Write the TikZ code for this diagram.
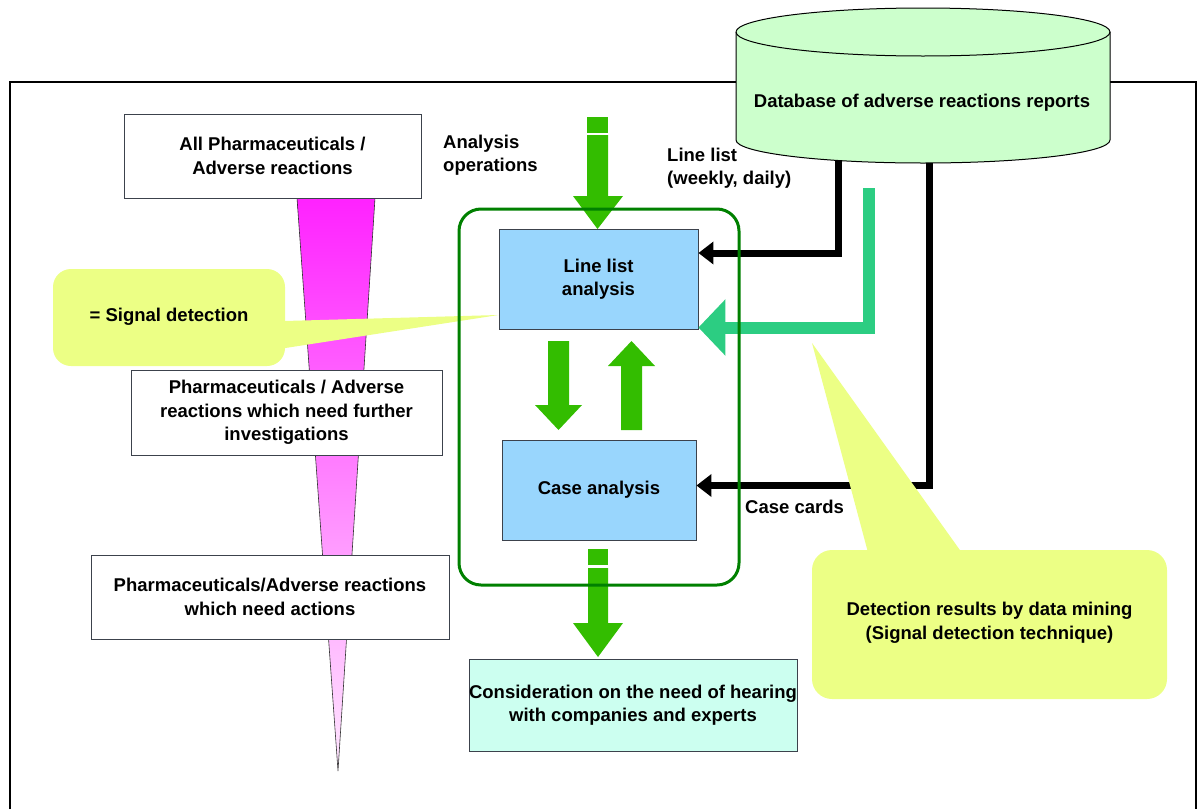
\documentclass[tikz,border=0pt]{standalone}
\usepackage{fontspec}
\setmainfont{Liberation Sans}
\usetikzlibrary{arrows.meta}

\definecolor{dbgreen}{RGB}{204,255,204}
\definecolor{boxblue}{RGB}{153,214,253}
\definecolor{boxline}{RGB}{60,66,76}
\definecolor{arrowgreen}{RGB}{51,189,0}
\definecolor{framegreen}{RGB}{0,128,0}
\definecolor{teal}{RGB}{44,205,130}
\definecolor{calloutyel}{RGB}{236,255,133}
\definecolor{mint}{RGB}{204,255,240}
\definecolor{funtop}{RGB}{255,34,255}
\definecolor{funbot}{RGB}{255,232,255}

\tikzset{
  txt/.style={font=\fontsize{18.5}{23.5}\selectfont\bfseries, align=center, inner sep=0pt},
  plainbox/.style={txt, draw=boxline, line width=0.9pt, fill=white},
  bluebox/.style={txt, draw=boxline, line width=0.9pt, fill=boxblue},
  mintbox/.style={txt, draw=boxline, line width=0.9pt, fill=mint},
  freelabel/.style={txt, align=left, anchor=west},
  feedline/.style={line width=7pt, -{Triangle[length=15pt,width=22pt]}},
  minedline/.style={line width=12pt, draw=teal, -{Triangle[length=27pt,width=55pt]}},
  blockarrow/.style={fill=arrowgreen},
  callout/.style={fill=calloutyel},
}

\begin{document}
\begin{tikzpicture}[x=1pt,y=-1pt]
\useasboundingbox (0,0) rectangle (1199,809);

% outer frame
\draw[line width=2pt] (10,809) -- (10,81.5) -- (1196,81.5) -- (1196,809);

% boxes of the analysis flow
\node[bluebox, minimum width=199pt, minimum height=100pt] (lla) at (598.5,279) {Line list\\analysis};
\node[bluebox, minimum width=194pt, minimum height=100pt] (cse) at (599,490) {Case analysis};
\node[mintbox, minimum width=328pt, minimum height=92pt] (cons) at (633,705)
  {Consideration on the need of hearing\\with companies and experts};

% feeds from the database
\coordinate (feedA) at (838,140);
\coordinate (feedB) at (929,140);
\coordinate (feedC) at (869,188);
\draw[feedline] (feedA) |- ([yshift=26pt]lla.east);
\draw[feedline] (feedB) |- ([yshift=4.5pt]cse.east);
\draw[minedline] (feedC) |- ([yshift=-48.5pt]lla.east);

% database cylinder
\path[fill=dbgreen, draw=black, line width=1pt]
  (736,32) -- (736,140) arc[start angle=180, end angle=360, x radius=187pt, y radius=23pt]
  -- (1110,32) arc[start angle=0, end angle=180, x radius=187pt, y radius=24pt] -- cycle;
\draw[line width=1pt] (736,32) arc[start angle=180, end angle=360, x radius=187pt, y radius=24pt];
\node[txt] (db) at (922,103) {Database of adverse reactions reports};

% green block arrows
\fill[blockarrow] (587,117) rectangle (608,132.5);
\fill[blockarrow] (587,135) -- (608,135) -- (608,196) -- (623,196) -- (597.5,229)
  -- (573,196) -- (587,196) -- cycle;
\fill[blockarrow] (548,341) -- (569,341) -- (569,405) -- (582,405) -- (558.5,430)
  -- (535,405) -- (548,405) -- cycle;
\fill[blockarrow] (621,430) -- (642,430) -- (642,366) -- (655,366) -- (631.5,341)
  -- (608,366) -- (621,366) -- cycle;
\fill[blockarrow] (588,549) rectangle (608,565);
\fill[blockarrow] (588,568) -- (608,568) -- (608,623) -- (623,623) -- (598,657)
  -- (573,623) -- (588,623) -- cycle;

% narrowing funnel
\path[top color=funtop, bottom color=funbot, draw=black!80, line width=0.6pt]
  (297,198) -- (375,198) -- (338,771) -- cycle;

% stage boxes along the funnel
\node[plainbox, minimum width=297pt, minimum height=84pt] (all) at (272.5,156)
  {All Pharmaceuticals /\\Adverse reactions};
\node[plainbox, minimum width=311pt, minimum height=85pt] (inv) at (286.5,412.5)
  {Pharmaceuticals / Adverse\\reactions which need further\\investigations};
\node[plainbox, minimum width=358pt, minimum height=84pt] (act) at (270,597)
  {Pharmaceuticals/Adverse reactions\\which need actions};

% callout: signal detection
\fill[callout, rounded corners=18pt] (53,269) rectangle (285,366);
\fill[callout] (270,321.4) -- (lla.west |- 0,315) -- (270,350.4) -- cycle;
\node[txt] (sig) at (169,316.5) {= Signal detection};

% callout: data mining results
\fill[callout, rounded corners=20pt] (812,550) rectangle (1167,699);
\fill[callout] (812,343) -- (967,560) -- (870,560) -- cycle;
\node[txt] (dm) at (989.5,622.5) {Detection results by data mining\\(Signal detection technique)};

% analysis operations frame
\draw[line width=3pt, draw=framegreen, rounded corners=22pt] (459,209) rectangle (739,585);

% free labels
\node[freelabel] (ops) at (443,155) {Analysis\\operations};
\node[freelabel] (ll) at (667,168) {Line list\\(weekly, daily)};
\node[freelabel] (cc) at (745,507) {Case cards};
\end{tikzpicture}
\end{document}
